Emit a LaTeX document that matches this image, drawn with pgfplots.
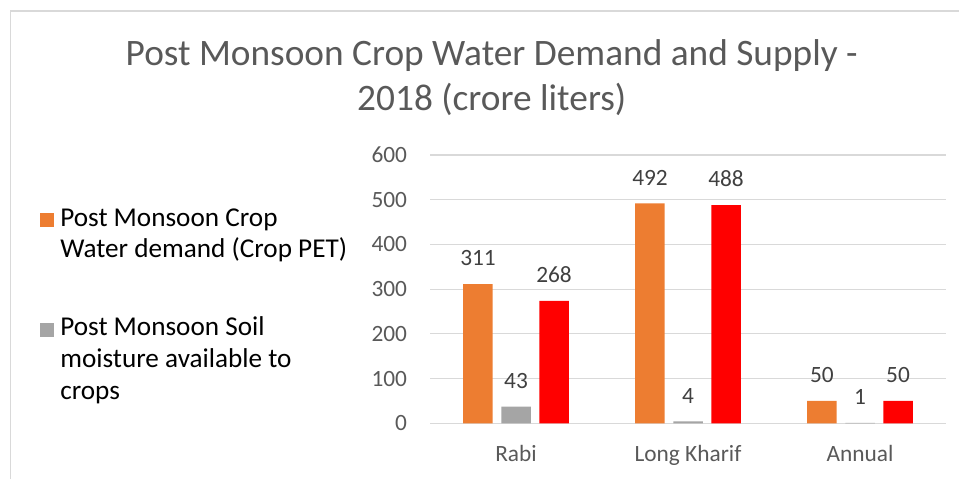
\documentclass[border=0pt]{standalone}
\usepackage{fontspec}
\setmainfont{Carlito}
\usepackage{pgfplots}
\pgfplotsset{compat=1.18}
\definecolor{cOrange}{HTML}{ED7D31}
\definecolor{cGray}{HTML}{A5A5A5}
\definecolor{cRed}{HTML}{FF0000}
\definecolor{cText}{HTML}{595959}
\definecolor{cLabel}{HTML}{404040}
\definecolor{cGrid}{HTML}{D9D9D9}
\pgfplotsset{sqlegend/.style={legend image code/.code={\path[##1] (0pt,-0.5pt) rectangle (10.5pt,10pt);}}}
\begin{document}
\begin{tikzpicture}
\path[use as bounding box] (0pt,0pt) rectangle (719.25pt,359.25pt);
\draw[cGrid, line width=0.9pt] (7.9pt,0pt) -- (7.9pt,351pt) -- (719.25pt,351pt);
\node[anchor=base, inner sep=0pt, text=cText, font=\fontsize{28}{33}\selectfont] at (368.8pt,309.75pt) {Post Monsoon Crop Water Demand and Supply -};
\node[anchor=base, inner sep=0pt, text=cText, font=\fontsize{28}{33}\selectfont] at (368.8pt,276pt) {2018 (crore liters)};
\begin{axis}[
  at={(322.5pt,41.8pt)}, anchor=south west, scale only axis,
  width=387pt, height=201.2pt,
  xmin=-0.5, xmax=2.5, ymin=0, ymax=600,
  ytick={0,100,200,300,400,500,600},
  xtick={0,1,2}, xticklabels={Rabi, Long Kharif, Annual},
  ymajorgrids, grid style={cGrid, line width=0.9pt},
  axis line style={draw=none}, major tick style={draw=none},
  /pgf/number format/assume math mode=true,
  yticklabel style={anchor=east, inner sep=0pt, xshift=-17pt, text=cText, font=\fontsize{17.5}{21}\selectfont},
  xticklabel style={anchor=base, inner sep=0pt, yshift=-28.8pt, text=cText, font=\fontsize{17.5}{21}\selectfont},
  nodes near coords, point meta=explicit symbolic,
  every node near coord/.append style={inner sep=0pt, yshift=13.5pt, text=cLabel, font=\fontsize{17.5}{21}\selectfont},
  legend style={at={(axis description cs:-0.757,0.802)}, anchor=north west, draw=none, fill=none, inner sep=0pt,
    row sep=66.8pt, column sep=5pt, font=\fontsize{20.4}{23.8}\selectfont, text=black,
    cells={anchor=base west}, nodes={inner sep=0pt}},
]
\addplot[ybar, bar width=0.1715, bar shift=0pt, fill=cOrange, draw=none, sqlegend]
  coordinates {(-0.221,311) [311] (0.779,492) [492] (1.779,50) [50]};
\addlegendentry{\vtop{\hbox{Post Monsoon Crop}\hbox{Water demand (Crop PET)}}}
\addplot[ybar, bar width=0.1715, bar shift=0pt, fill=cGray, draw=none, sqlegend]
  coordinates {(0,37) [43] (1,4) [4] (2,1) [1]};
\addlegendentry{\vtop{\hbox{Post Monsoon Soil}\hbox{moisture available to}\hbox{crops}}}
\addplot[ybar, bar width=0.1715, bar shift=0pt, fill=cRed, draw=none, forget plot]
  coordinates {(0.221,274) [268] (1.221,488) [488] (2.221,50) [50]};
\end{axis}
\end{tikzpicture}
\end{document}
